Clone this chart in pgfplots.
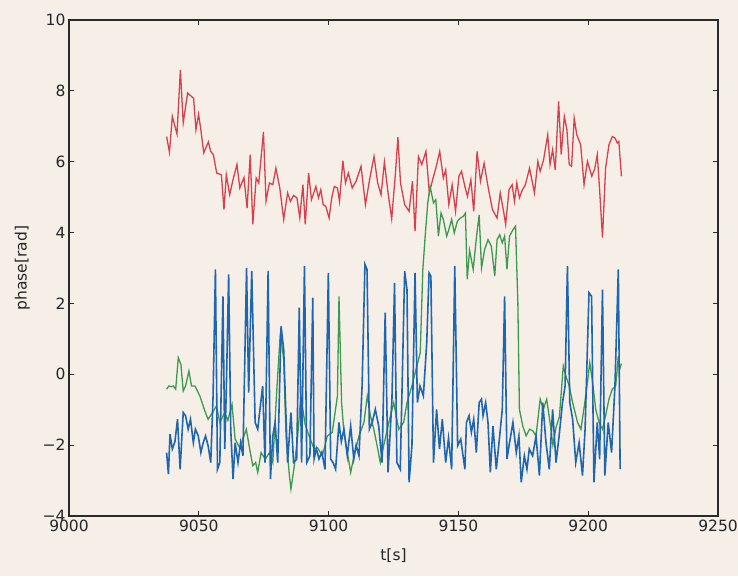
\documentclass[border=0pt]{standalone}
\usepackage{pgfplots}
\pgfplotsset{compat=1.18}
\usepackage{fontspec}
\setmainfont{DejaVu Sans}

\definecolor{paper}{HTML}{F6EFE7}
\definecolor{frame}{HTML}{2A2A2A}
\definecolor{phred}{HTML}{D8404C}
\definecolor{phgreen}{HTML}{3C9A4C}
\definecolor{phblue}{HTML}{1F66B0}

\begin{document}
\begin{tikzpicture}
% page background
\fill[paper] (-69pt,-60pt) rectangle (669pt,516pt);
\begin{axis}[
  scale only axis,
  width=649pt, height=496pt,
  xmin=9000, xmax=9250, ymin=-4, ymax=10,
  xtick={9000,9050,9100,9150,9200,9250},
  xticklabels={9000,9050,9100,9150,9200,9250},
  ytick={-4,-2,0,2,4,6,8,10},
  yticklabels={−4,−2,0,2,4,6,8,10},
  tick align=inside,
  major tick length=5pt,
  every tick/.style={frame, line width=0.8pt},
  axis line style={frame, line width=1.4pt},
  tick label style={font=\fontsize{15.5}{18.5}\selectfont, text=black!85},
  label style={font=\fontsize{15.5}{18.5}\selectfont, text=black!85},
  xlabel={t[s]},
  ylabel={phase[rad]},
  xlabel style={at={(axis description cs:0.5,-0.079)}, anchor=center},
  ylabel style={at={(axis description cs:-0.072,0.5)}, anchor=center, rotate=0},
  axis background/.style={fill=paper},
  clip=true,
]
% red phase
\addplot[phred, line width=1.3pt] table {
9037.6 6.71
9038.7 6.27
9039.8 7.28
9040.8 7.00
9041.6 6.78
9042.9 8.59
9044.0 7.10
9045.7 7.94
9047.2 7.84
9048.0 7.79
9048.9 6.90
9049.9 7.34
9050.8 6.90
9051.9 6.25
9053.7 6.56
9054.6 6.29
9055.6 6.20
9056.9 5.68
9058.7 5.63
9059.7 4.65
9060.6 5.63
9061.9 5.07
9063.2 5.50
9064.7 5.92
9065.8 5.26
9067.4 5.55
9068.6 4.69
9069.8 6.20
9070.8 4.23
9072.1 5.54
9073.1 5.40
9074.9 6.84
9075.9 4.89
9077.2 5.40
9078.5 5.35
9079.7 5.82
9081.2 5.26
9082.7 4.37
9084.2 5.12
9085.3 4.88
9086.5 5.05
9087.8 4.98
9088.9 4.42
9090.1 5.35
9091.0 4.23
9092.3 5.68
9093.4 4.93
9095.1 5.30
9096.1 4.98
9097.0 5.21
9097.9 4.79
9098.9 4.74
9100.2 4.41
9101.2 4.98
9102.2 5.30
9103.4 5.26
9104.2 4.88
9105.5 6.03
9106.5 5.40
9107.6 5.68
9109.1 5.26
9110.6 5.45
9112.5 5.87
9114.2 4.79
9115.8 5.50
9117.5 6.15
9118.9 5.40
9120.2 5.07
9121.5 5.99
9122.9 5.12
9124.3 4.39
9125.7 5.63
9126.7 6.69
9127.7 5.40
9129.3 4.79
9131.0 4.60
9132.3 5.45
9133.3 4.04
9134.6 6.15
9135.9 5.92
9137.5 6.29
9138.8 5.12
9140.1 5.50
9141.3 5.82
9142.8 6.29
9144.2 5.54
9145.1 5.77
9146.3 4.79
9147.6 5.35
9148.9 4.60
9150.2 5.59
9151.2 5.73
9152.5 5.30
9153.5 5.02
9154.8 5.49
9155.9 4.60
9157.2 6.29
9158.5 5.45
9159.9 5.96
9161.4 5.30
9163.1 4.65
9164.9 4.41
9166.1 5.12
9167.4 4.60
9168.2 4.23
9169.5 5.21
9170.7 5.35
9171.6 4.88
9172.5 5.40
9173.5 4.98
9174.6 5.20
9175.8 5.35
9177.4 5.82
9178.4 5.45
9179.3 5.12
9180.6 6.01
9181.5 5.73
9182.8 6.05
9184.4 6.76
9185.3 5.92
9186.3 6.34
9187.3 5.77
9188.6 7.70
9189.6 6.20
9190.8 7.28
9191.8 6.90
9192.7 5.92
9193.6 5.87
9194.6 7.23
9195.6 6.76
9197.1 6.48
9198.4 5.35
9199.7 6.01
9201.4 5.59
9202.5 5.80
9203.5 6.20
9204.4 5.20
9205.5 3.86
9206.7 5.82
9208.0 6.48
9209.3 6.71
9210.3 6.67
9211.2 6.53
9211.8 6.57
9212.8 5.59
};
% green phase
\addplot[phgreen, line width=1.3pt] table {
9037.6 -0.42
9038.5 -0.33
9039.4 -0.35
9040.2 -0.33
9041.1 -0.42
9042.1 0.47
9043.1 0.28
9044.0 -0.47
9044.9 -0.33
9046.2 0.09
9047.2 -0.33
9048.5 -0.33
9050.4 -0.61
9052.3 -1.03
9053.6 -1.27
9055.1 -1.10
9056.8 -0.89
9058.1 -1.36
9060.0 -1.08
9061.2 -1.30
9062.8 -0.85
9064.0 -1.83
9065.7 -2.07
9067.4 -1.74
9068.3 -1.55
9069.6 -2.11
9070.8 -2.58
9071.9 -2.49
9072.7 -2.77
9074.0 -2.21
9075.6 -2.40
9077.2 -2.21
9078.5 -2.49
9080.0 -0.50
9081.4 1.17
9082.7 0.42
9083.6 -1.74
9084.9 -2.86
9085.5 -3.24
9086.8 -2.58
9088.1 -1.74
9089.3 -0.61
9090.9 -1.40
9092.5 -1.74
9094.4 -2.11
9095.7 -2.07
9097.6 -2.30
9099.5 -1.74
9101.4 -1.64
9103.4 -0.61
9104.0 2.20
9105.0 -0.80
9105.9 -1.64
9107.2 -2.20
9108.5 -2.77
9109.8 -2.30
9111.7 -1.74
9113.6 -1.36
9114.9 -0.61
9116.1 -1.17
9117.4 -1.55
9118.7 -2.02
9119.9 -2.49
9121.2 -2.02
9123.2 -1.36
9125.1 -0.80
9127.0 -1.55
9128.9 -1.36
9130.2 -0.80
9132.1 -0.33
9134.0 0.23
9135.3 0.61
9136.3 2.96
9137.2 3.90
9138.2 4.84
9139.1 5.30
9140.4 4.84
9141.3 4.93
9142.3 3.90
9143.3 4.55
9144.2 4.37
9145.5 3.90
9146.3 4.08
9147.4 4.37
9148.4 3.99
9149.6 4.32
9150.6 4.40
9151.9 4.46
9152.7 4.55
9153.4 2.68
9154.3 3.50
9155.7 2.96
9157.0 3.90
9158.0 4.50
9158.9 3.00
9160.1 3.52
9161.4 3.80
9162.7 3.61
9164.0 2.77
9164.9 3.80
9165.9 3.94
9166.9 3.71
9167.8 3.90
9168.7 2.96
9169.7 3.90
9171.0 4.08
9172.0 4.18
9172.9 2.02
9173.5 -0.99
9174.8 -1.46
9176.1 -1.74
9177.4 -1.55
9178.7 -1.60
9179.9 -1.74
9181.5 -0.70
9182.7 -0.99
9184.0 -0.70
9185.3 -1.36
9186.4 -2.00
9187.6 -1.50
9188.9 -1.20
9190.4 0.23
9191.4 -0.05
9192.7 -0.33
9194.0 -0.80
9195.9 -1.36
9197.2 -1.55
9198.5 -0.90
9199.7 -0.23
9200.6 0.33
9201.8 -0.30
9202.9 -0.99
9204.2 -1.36
9205.5 -1.55
9206.7 -1.17
9208.0 -0.70
9209.3 -0.42
9210.6 -0.33
9211.6 0.51
9212.1 0.14
9212.8 0.30
};
% blue phase
\addplot[phblue, line width=1.6pt] table {
9037.6 -2.21
9038.3 -2.82
9038.9 -1.69
9039.8 -2.11
9040.8 -1.90
9041.8 -1.27
9042.8 -2.68
9044.0 -1.08
9044.9 -1.17
9045.9 -1.55
9046.8 -1.27
9047.9 -1.93
9048.7 -1.55
9049.8 -1.74
9050.8 -2.21
9051.7 -1.93
9052.6 -1.74
9053.6 -2.02
9054.6 -2.49
9055.5 -0.61
9056.4 2.96
9057.2 -2.68
9058.1 -2.49
9059.3 2.20
9060.0 -2.11
9060.6 -0.42
9061.5 2.82
9062.3 -1.55
9063.2 -2.96
9064.0 -1.93
9065.1 -2.49
9066.1 -1.93
9067.0 -2.30
9068.4 3.00
9069.2 -0.52
9070.4 2.91
9071.7 -1.36
9072.7 -1.55
9073.7 -0.90
9074.6 -0.33
9075.5 -2.49
9076.7 2.91
9077.6 -2.96
9078.5 -1.74
9079.4 -1.36
9080.4 -2.49
9081.7 1.36
9082.7 0.70
9084.2 -2.49
9085.5 -1.08
9086.5 -2.49
9087.7 -2.40
9088.7 1.88
9089.6 -2.49
9090.7 3.05
9091.6 -2.49
9092.8 -2.30
9093.9 2.16
9094.4 -2.39
9095.3 -2.10
9096.3 -2.39
9097.4 -2.20
9098.6 -2.68
9099.9 2.86
9100.8 -2.39
9101.7 -2.49
9102.7 -2.68
9104.0 -1.36
9104.9 -1.90
9105.9 -1.55
9107.2 -2.30
9108.5 -1.46
9109.7 -2.39
9110.6 -2.00
9111.7 -2.30
9112.9 -0.33
9114.0 3.10
9114.8 2.96
9115.7 -1.55
9116.8 -1.36
9118.0 -0.99
9119.3 -1.46
9120.6 -2.49
9121.8 1.74
9122.9 -2.77
9124.4 -0.70
9125.4 2.58
9126.3 -2.49
9127.6 -2.68
9129.3 2.91
9130.2 2.39
9131.0 -3.05
9132.1 -2.02
9133.3 2.86
9134.2 -0.80
9135.2 -0.33
9136.5 -0.61
9137.8 0.89
9138.7 2.86
9139.4 2.77
9140.4 -2.49
9141.6 -0.99
9142.7 -2.11
9143.8 -1.27
9145.1 -2.49
9146.2 -1.80
9147.4 -2.68
9148.6 3.05
9149.7 -2.02
9150.9 -1.83
9152.5 -2.68
9153.1 -1.36
9154.1 -1.17
9155.0 -1.64
9155.9 -1.27
9156.9 -2.21
9158.0 -0.80
9158.9 -0.70
9159.5 -1.17
9160.5 -0.80
9161.4 -1.36
9162.3 -2.77
9163.3 -1.46
9164.6 -2.68
9165.9 -1.74
9166.9 -0.99
9167.8 2.20
9168.7 -2.39
9169.7 -1.93
9171.0 -1.36
9172.3 -2.21
9173.3 -1.74
9174.2 -3.05
9175.4 -2.30
9176.4 -2.68
9177.3 -2.11
9178.6 -2.30
9179.9 -1.74
9181.2 -2.86
9182.5 -0.80
9183.7 -1.90
9185.0 -2.68
9186.3 -0.99
9187.6 -2.49
9188.8 -1.74
9190.1 -0.80
9191.1 -0.33
9192.0 3.05
9192.9 -0.80
9194.0 -1.27
9195.2 -2.49
9196.5 -1.93
9197.8 -2.86
9198.8 -1.55
9200.3 2.30
9201.3 2.20
9202.2 -3.05
9203.5 -1.36
9204.4 -2.40
9205.5 2.39
9206.4 -2.86
9207.7 -1.36
9209.0 -2.21
9210.3 -0.33
9211.6 2.96
9212.3 -2.68
};
\end{axis}
% picture size: the page area only
\pgfresetboundingbox
\path (-69pt,-60pt) rectangle (669pt,516pt);
\end{tikzpicture}
\end{document}
